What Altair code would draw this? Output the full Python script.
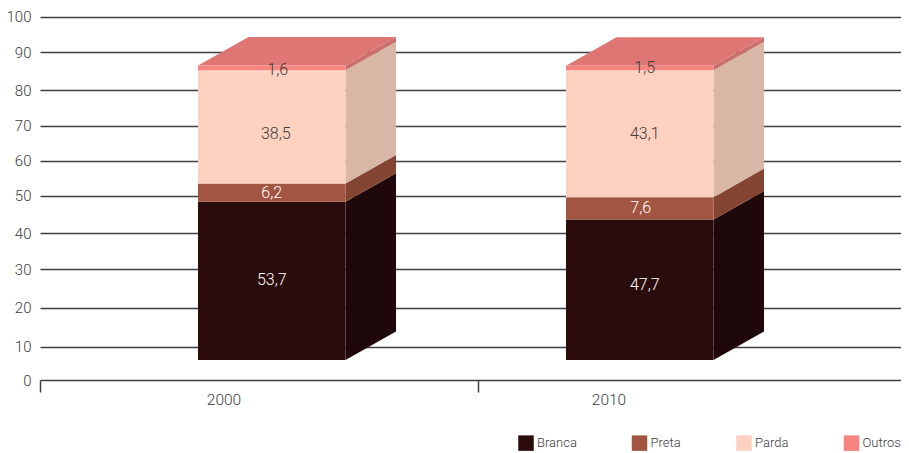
import altair as alt
import pandas as pd

years = ["2000", "2010"]
series = ["Branca", "Preta", "Parda", "Outros"]
values = {"2000": [53.7, 6.2, 38.5, 1.6], "2010": [47.7, 7.6, 43.1, 1.5]}
front = ["#2b0c0d", "#a25641", "#fcd1bf", "#f6857f"]
side = ["#1e0809", "#834532", "#d8b7a7", "#c96f6c"]
top_face = "#de7773"
ticks = [0, 10, 20, 30, 40, 50, 60, 70, 80, 90, 100]

# geometry (not data)
tick_px = [372, 338.7, 299.7, 261, 225, 187.5, 152.7, 117.7, 82.3, 44.3, 8.5]
bar_left = {"2000": 158, "2010": 526}
bar_w = 147.5
dx = 50.5
dy = 9.7
year_x = {"2000": 184, "2010": 569}
label_dx = {"2000": [0, 0, 4, 6], "2010": [5, 1, 5, 5]}
label_dy = {"2000": [0.3, 0, -2.4, -0.6], "2010": [1.5, 0, 0, 0]}
font = "Roboto"
ink = "#3c3c3c"

W, H = 861, 372
xs = alt.Scale(domain=[0, W], range=[0, W])
ys = alt.Scale(domain=[0, 100], range=[352, 57.5])
X = lambda f="x": alt.X(f"{f}:Q", scale=xs, axis=None)
Y = lambda f="y": alt.Y(f"{f}:Q", scale=ys, axis=None)

grid = alt.Chart(pd.DataFrame({"v": ticks})).mark_rule(opacity=0).encode(
    y=alt.Y("v:Q", title=None,
            scale=alt.Scale(domain=ticks, range=tick_px),
            axis=alt.Axis(values=ticks, grid=True, gridColor="#3f3f3f", gridWidth=1.5,
                          domain=False, ticks=False, labelPadding=9, labelFont=font,
                          labelFontSize=15, labelFontWeight=300, labelColor=ink, format="d")),
    x=alt.X("p:Q", scale=xs, title=None,
            axis=alt.Axis(values=[0, 438], labels=False, ticks=True, tickSize=12,
                          tickColor="#3f3f3f", tickWidth=1.5, grid=False, domain=False)),
).transform_calculate(p="0")

layers = [grid]
front_rows, light, dark = [], [], []
for yr in years:
    l = bar_left[yr]
    r = l + bar_w
    base = 0.0
    for i, (s, v) in enumerate(zip(series, values[yr])):
        t = base + v
        front_rows.append({"year": yr, "serie": s, "order": i, "x": l, "x2": r, "y": base, "y2": t})
        sd = pd.DataFrame({"x": [r, r + dx], "y": [base, base + dy], "y2": [t, t + dy]})
        layers.append(alt.Chart(sd).mark_area(color=side[i], opacity=1).encode(x=X(), y=Y(), y2="y2:Q"))
        row = {"x": l + bar_w / 2 + label_dx[yr][i], "y": base + v / 2 + label_dy[yr][i],
               "t": f"{v:.1f}".replace(".", ",")}
        (light if i < 2 else dark).append(row)
        base = t
    tp = pd.DataFrame({"x": [l, l + dx, r, r + dx],
                       "y": [base, base, base, base + dy],
                       "y2": [base, base + dy, base + dy, base + dy]})
    layers.append(alt.Chart(tp).mark_area(color=top_face, opacity=1).encode(x=X(), y=Y(), y2="y2:Q"))

bars = alt.Chart(pd.DataFrame(front_rows)).mark_rect().encode(
    x=X(), x2="x2:Q", y=Y(), y2="y2:Q",
    color=alt.Color("serie:N", scale=alt.Scale(domain=series, range=front),
                    legend=alt.Legend(orient="none", legendX=478, legendY=427, direction="horizontal",
                                      columns=4, title=None, symbolType="square", symbolSize=240,
                                      symbolStrokeWidth=0, symbolOpacity=1, labelFont=font,
                                      labelFontSize=13, labelFontWeight=300, labelColor=ink,
                                      columnPadding=54.5, labelOffset=3, padding=0)),
)
layers.append(bars)
for rows, c in ((light, "#ffffff"), (dark, ink)):
    layers.append(alt.Chart(pd.DataFrame(rows)).mark_text(font=font, fontSize=16, fontWeight=300, color=c).encode(
        x=X(), y=Y(), text="t:N"))

yl = pd.DataFrame({"x": [year_x[y] for y in years], "t": years})
layers.append(alt.Chart(yl).mark_text(font=font, fontSize=15.5, fontWeight=300, color=ink).encode(
    x=X(), y=alt.value(392), text="t:N"))

chart = alt.layer(*layers).resolve_scale(y="independent").resolve_axis(x="independent").properties(
    width=W, height=H,
    autosize=alt.AutoSizeParams(type="none"),
    padding={"left": 32, "top": 0, "right": 0, "bottom": 73},
).configure_view(stroke=None).configure_axis(labelOverlap=False)

chart.save("out.html", embed_options={"renderer": "svg", "actions": False})
